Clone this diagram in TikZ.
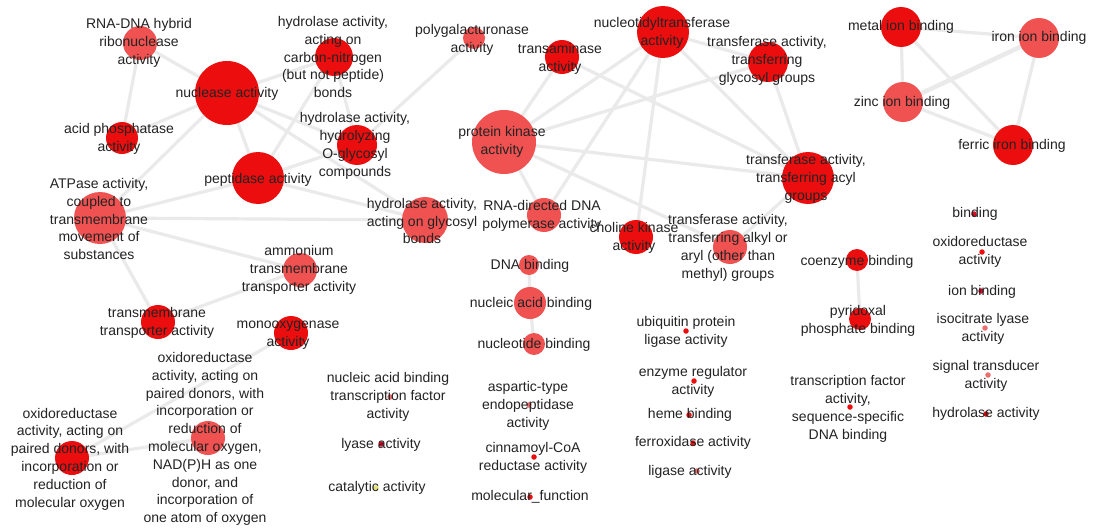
\documentclass[tikz,border=0pt]{standalone}
\usepackage{fontspec}
\setmainfont{Liberation Sans}
\pgfdeclarelayer{bg}
\pgfsetlayers{bg,main}
\definecolor{gored}{RGB}{236,14,14}
\definecolor{golight}{RGB}{240,82,82}
\definecolor{godot}{RGB}{214,6,36}
\definecolor{gopink}{RGB}{236,110,110}
\definecolor{goyellow}{RGB}{228,228,120}
\definecolor{edgegray}{RGB}{234,234,234}
\definecolor{labelink}{RGB}{35,35,35}
\tikzset{
  bub/.style={circle,inner sep=0pt,draw=none,minimum size=#1},
  dot/.style={circle,inner sep=0pt,draw=none,minimum size=5.5pt},
  lab/.style={inner sep=0pt,align=center,text=labelink,
    font=\fontsize{14}{17.8}\selectfont},
  link/.style={draw=edgegray,line width=3.2pt},
}
\begin{document}
\begin{tikzpicture}[x=1pt,y=-1pt]
\useasboundingbox (0,0) rectangle (1093,530);

% term circles, sized by frequency
\node[bub=34pt,fill=golight] (rdh) at (140,43) {};
\node[bub=64pt,fill=gored] (nuc) at (227,93) {};
\node[bub=32pt,fill=gored] (acp) at (122,138) {};
\node[bub=38pt,fill=gored] (hcn) at (334,57) {};
\node[bub=52pt,fill=gored] (pep) at (258,178) {};
\node[bub=40pt,fill=gored] (hog) at (357,145) {};
\node[bub=52pt,fill=golight] (atp) at (100,218) {};
\node[bub=46pt,fill=golight] (hgb) at (425,220) {};
\node[bub=34pt,fill=golight] (amm) at (300,270) {};
\node[bub=34pt,fill=gored] (tmt) at (158,322) {};
\node[bub=34pt,fill=gored] (mon) at (291,333) {};
\node[bub=34pt,fill=golight] (oxl) at (208,438) {};
\node[bub=34pt,fill=gored] (oxs) at (72,458) {};
\node[bub=22pt,fill=golight] (pga) at (474,38) {};
\node[bub=34pt,fill=gored] (tam) at (562,57) {};
\node[bub=52pt,fill=gored] (ntt) at (663,32) {};
\node[bub=40pt,fill=gored] (tgg) at (768,62) {};
\node[bub=64pt,fill=golight] (pk) at (504,142) {};
\node[bub=52pt,fill=gored] (acy) at (808,178) {};
\node[bub=34pt,fill=golight] (rdp) at (544,215) {};
\node[bub=34pt,fill=gored] (chk) at (636,237) {};
\node[bub=34pt,fill=golight] (alk) at (730,247) {};
\node[bub=40pt,fill=gored] (mib) at (901,27) {};
\node[bub=40pt,fill=golight] (iib) at (1039,38) {};
\node[bub=40pt,fill=golight] (zib) at (903,102) {};
\node[bub=40pt,fill=gored] (fib) at (1013,145) {};
\node[bub=20pt,fill=golight] (dnb) at (529,265) {};
\node[bub=32pt,fill=golight] (nab) at (530,303) {};
\node[bub=22pt,fill=golight] (ntb) at (534,344) {};
\node[bub=22pt,fill=gored] (coe) at (857,260) {};
\node[bub=22pt,fill=gored] (pyr) at (860,319) {};

% isolated terms
\node[dot,fill=godot] (bnd) at (974,214) {};
\node[dot,fill=gored] (oxa) at (982,252) {};
\node[dot,fill=godot] (ionb) at (981,291) {};
\node[dot,fill=gopink] (icl) at (985,328) {};
\node[dot,fill=gopink] (sig) at (988,375) {};
\node[dot,fill=gored] (hya) at (986,414) {};
\node[dot,fill=gored] (tfa) at (850,407) {};
\node[dot,fill=gored] (ubq) at (686,331) {};
\node[dot,fill=gored] (enz) at (694,381) {};
\node[dot,fill=gored] (hem) at (689,415) {};
\node[dot,fill=gored] (fox) at (693,443) {};
\node[dot,fill=gopink] (lig) at (697,471) {};
\node[dot,fill=gopink] (natf) at (390,397) {};
\node[dot,fill=godot] (lya) at (381,444) {};
\node[dot,fill=goyellow] (cat) at (376,488) {};
\node[dot,fill=gopink] (asp) at (529,405) {};
\node[dot,fill=gored] (cin) at (534,457) {};
\node[dot,fill=gored] (mf) at (530,497) {};

% white ground and similarity links, under the circles
\begin{pgfonlayer}{bg}
\fill[white] (0,0) rectangle (1093,530);
\foreach \a/\b in {rdh/nuc,rdh/acp,acp/nuc,nuc/hcn,nuc/pep,nuc/hog,nuc/hgb,
  nuc/atp,hcn/pep,hcn/hog,pep/hog,pep/hgb,pep/atp,atp/hgb,atp/amm,
  atp/tmt,tmt/amm,mon/oxs,oxs/oxl,pga/hog,pk/tam,pk/ntt,pk/tgg,
  pk/acy,pk/rdp,pk/alk,ntt/rdp,ntt/chk,ntt/acy,ntt/tgg,tgg/acy,tam/acy,
  acy/alk,mib/iib,mib/zib,mib/fib,iib/fib,zib/fib,coe/pyr,dnb/nab,nab/ntb}
  \draw[link] (\a.center) -- (\b.center);
\draw[link,line width=4.5pt] (iib.center) -- (zib.center);
\end{pgfonlayer}

% term names
\node[lab] (t-rdh) at (139,43) {RNA-DNA hybrid\\ribonuclease\\activity};
\node[lab] (t-nuc) at (227,94) {nuclease activity};
\node[lab] (t-acp) at (119,139) {acid phosphatase\\activity};
\node[lab] (t-hcn) at (333,57) {hydrolase activity,\\acting on\\carbon-nitrogen\\(but not peptide)\\bonds};
\node[lab] (t-pep) at (258,180) {peptidase activity};
\node[lab] (t-hog) at (355,146) {hydrolase activity,\\hydrolyzing\\O-glycosyl\\compounds};
\node[lab] (t-atp) at (99,219) {ATPase activity,\\coupled to\\transmembrane\\movement of\\substances};
\node[lab] (t-hgb) at (422,221) {hydrolase activity,\\acting on glycosyl\\bonds};
\node[lab] (t-amm) at (299,270) {ammonium\\transmembrane\\transporter activity};
\node[lab] (t-tmt) at (157,323) {transmembrane\\transporter activity};
\node[lab] (t-mon) at (288,335) {monooxygenase\\activity};
\node[lab] (t-oxl) at (205,439) {oxidoreductase\\activity, acting on\\paired donors, with\\incorporation or\\reduction of\\molecular oxygen,\\NAD(P)H as one\\donor, and\\incorporation of\\one atom of oxygen};
\node[lab] (t-oxs) at (70,459) {oxidoreductase\\activity, acting on\\paired donors, with\\incorporation or\\reduction of\\molecular oxygen};
\node[lab] (t-pga) at (472,40) {polygalacturonase\\activity};
\node[lab] (t-tam) at (560,59) {transaminase\\activity};
\node[lab] (t-ntt) at (662,33) {nucleotidyltransferase\\activity};
\node[lab] (t-tgg) at (767,61) {transferase activity,\\transferring\\glycosyl groups};
\node[lab] (t-pk) at (502,142) {protein kinase\\activity};
\node[lab] (t-acy) at (806,179) {transferase activity,\\transferring acyl\\groups};
\node[lab] (t-rdp) at (542,216) {RNA-directed DNA\\polymerase activity};
\node[lab] (t-chk) at (634,238) {choline kinase\\activity};
\node[lab] (t-alk) at (728,248) {transferase activity,\\transferring alkyl or\\aryl (other than\\methyl) groups};
\node[lab] (t-mib) at (901,27) {metal ion binding};
\node[lab] (t-iib) at (1039,38) {iron ion binding};
\node[lab] (t-zib) at (902,103) {zinc ion binding};
\node[lab] (t-fib) at (1012,146) {ferric iron binding};
\node[lab] (t-dnb) at (530,266) {DNA binding};
\node[lab] (t-nab) at (531,304) {nucleic acid binding};
\node[lab] (t-ntb) at (534,345) {nucleotide binding};
\node[lab] (t-coe) at (857,262) {coenzyme binding};
\node[lab] (t-pyr) at (858,321) {pyridoxal\\phosphate binding};
\node[lab] (t-bnd) at (975,214) {binding};
\node[lab] (t-oxa) at (980,252) {oxidoreductase\\activity};
\node[lab] (t-ionb) at (982,292) {ion binding};
\node[lab] (t-icl) at (983,329) {isocitrate lyase\\activity};
\node[lab] (t-sig) at (986,376) {signal transducer\\activity};
\node[lab] (t-hya) at (986,414) {hydrolase activity};
\node[lab] (t-tfa) at (848,409) {transcription factor\\activity,\\sequence-specific\\DNA binding};
\node[lab] (t-ubq) at (686,332) {ubiquitin protein\\ligase activity};
\node[lab] (t-enz) at (693,382) {enzyme regulator\\activity};
\node[lab] (t-hem) at (690,415) {heme binding};
\node[lab] (t-fox) at (693,443) {ferroxidase activity};
\node[lab] (t-lig) at (690,472) {ligase activity};
\node[lab] (t-natf) at (388,397) {nucleic acid binding\\transcription factor\\activity};
\node[lab] (t-lya) at (381,445) {lyase activity};
\node[lab] (t-cat) at (377,488) {catalytic activity};
\node[lab] (t-asp) at (528,406) {aspartic-type\\endopeptidase\\activity};
\node[lab] (t-cin) at (533,458) {cinnamoyl-CoA\\reductase activity};
\node[lab] (t-mf) at (530,497) {molecular\_function};
\end{tikzpicture}
\end{document}
